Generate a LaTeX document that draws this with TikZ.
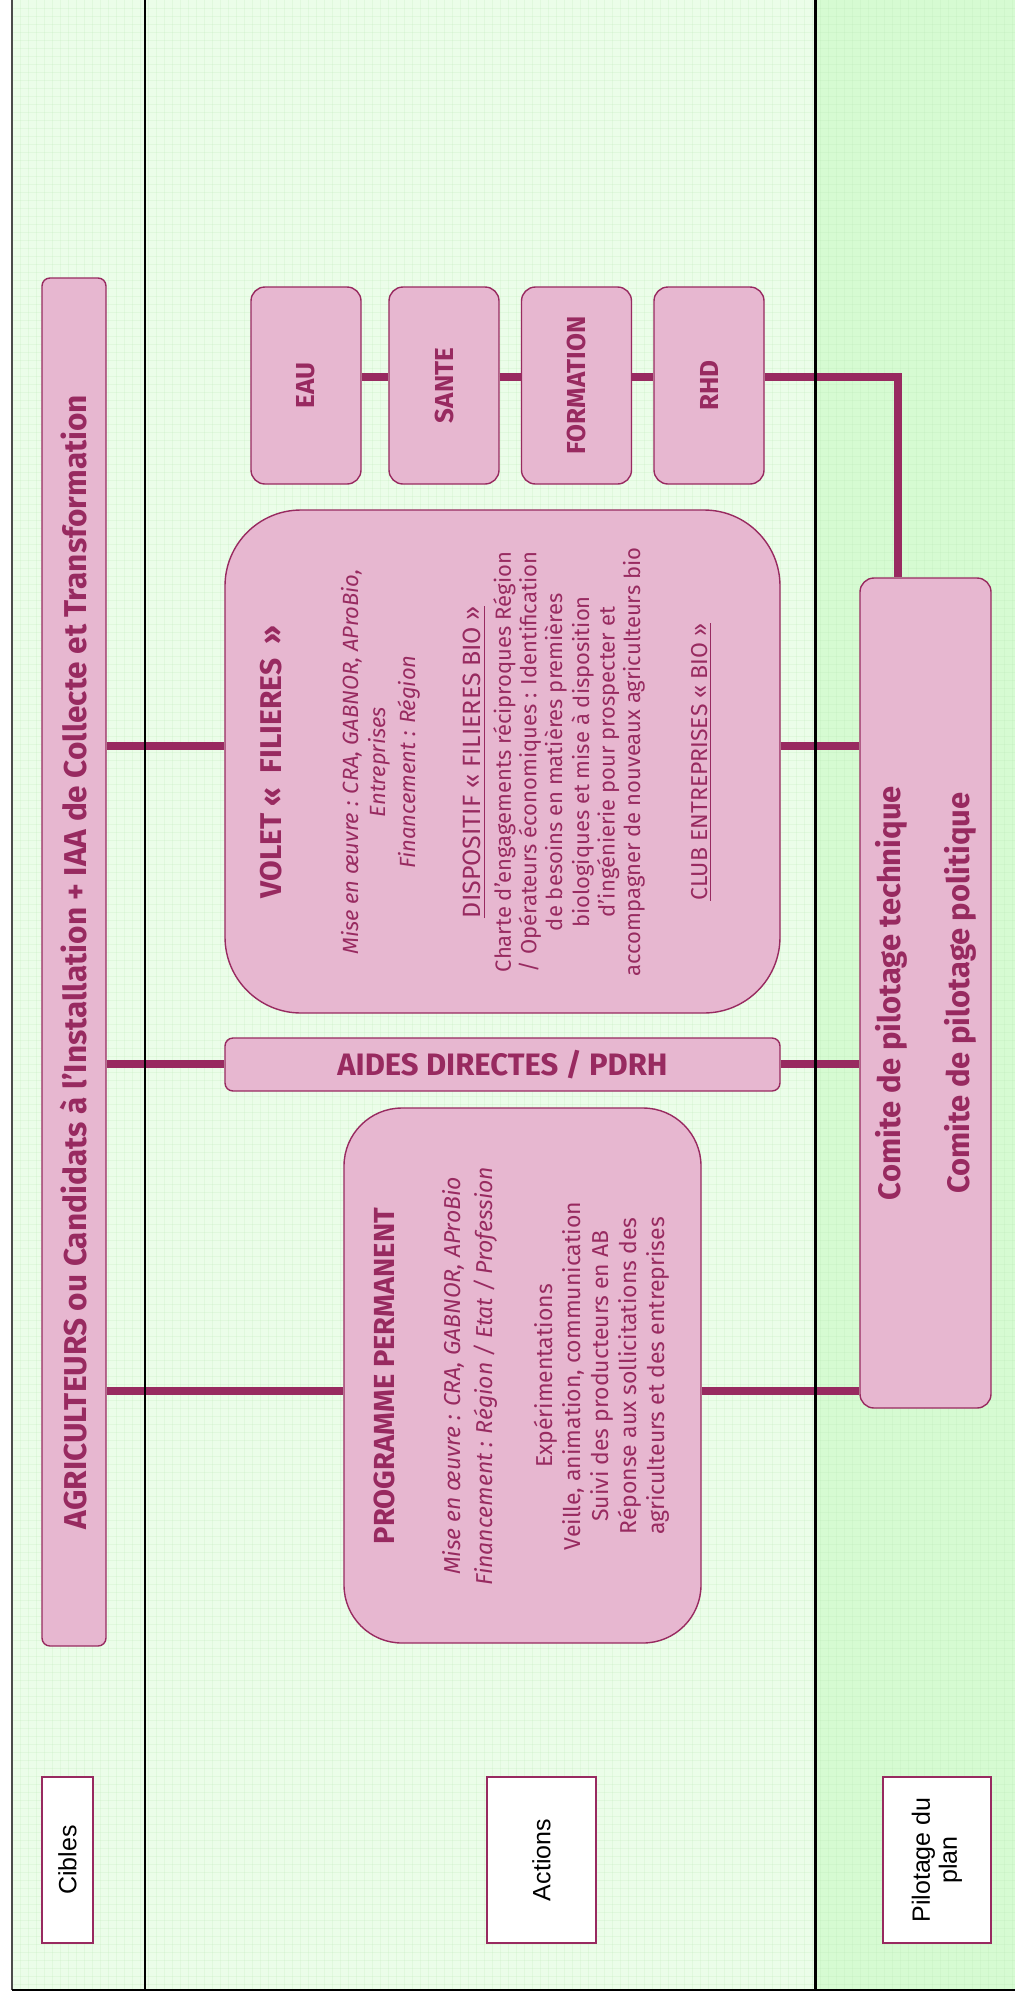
\documentclass[tikz,border=0pt]{standalone}
\usepackage{fontspec}
\setmainfont{Fira Sans}
\newfontfamily\labelfont{Liberation Sans}
\usetikzlibrary{positioning}

\definecolor{boxpink}{RGB}{231,183,208}
\definecolor{plum}{RGB}{152,42,96}
\definecolor{lanegreen}{RGB}{235,253,233}
\definecolor{pilotgreen}{RGB}{214,251,210}
\definecolor{gridgreen}{RGB}{180,230,176}

\tikzset{
  pinkbox/.style={draw=plum, fill=boxpink, line width=0.7pt, text=plum, inner sep=0pt, align=center},
  boxtext/.style={text=plum, inner sep=0pt, align=center},
  linkline/.style={draw=plum, line width=4pt},
  laneline/.style={draw=black, line width=1pt},
  lanelabel/.style={draw=plum, fill=white, line width=0.6pt, rotate=90, inner sep=0pt, align=center,
    font=\labelfont\fontsize{12.5}{13.5}\selectfont},
}

\begin{document}
\begin{tikzpicture}[x=0.5pt, y=-0.5pt]
    \useasboundingbox (0,0) rectangle (1015,1997);

    % Lanes
    \fill[lanegreen] (12,0) rectangle (815,1990);
    \fill[pilotgreen] (815,0) rectangle (1015,1990);
    \foreach \gx in {20,28,...,1012}
        \draw[gridgreen, line width=0.25pt, opacity=0.2] (\gx,0) -- (\gx,1990);
    \foreach \gy in {8,16,...,1984}
        \draw[gridgreen, line width=0.25pt, opacity=0.2] (12,\gy) -- (1015,\gy);

    % Cibles
    \node[pinkbox, rotate=90, rounded corners=4pt, minimum width=684pt, minimum height=32pt,
        font=\bfseries\fontsize{15.8}{17}\selectfont] (agri) at (74,962)
        {AGRICULTEURS ou Candidats à l’Installation + IAA de Collecte et Transformation};

    % Actions
    \node[pinkbox, rotate=90, rounded corners=7pt, minimum width=98.5pt, minimum height=55pt,
        font=\bfseries\fontsize{13}{14}\selectfont] (eau) at (306,385.5) {EAU};
    \node[pinkbox, rotate=90, rounded corners=7pt, minimum width=98.5pt, minimum height=55pt,
        font=\bfseries\fontsize{13}{14}\selectfont] (sante) at (444,385.5) {SANTE};
    \node[pinkbox, rotate=90, rounded corners=7pt, minimum width=98.5pt, minimum height=55pt,
        font=\bfseries\fontsize{13}{14}\selectfont] (formation) at (576.5,385.5) {FORMATION};
    \node[pinkbox, rotate=90, rounded corners=7pt, minimum width=98.5pt, minimum height=55pt,
        font=\bfseries\fontsize{13}{14}\selectfont] (rhd) at (709,385.5) {RHD};

    \node[pinkbox, rotate=90, rounded corners=38pt, minimum width=251.5pt, minimum height=277.5pt]
        (volet) at (502.5,761.5) {};
    \node[boxtext, rotate=90, font=\fontsize{11}{12.8}\selectfont] (volettext) at (486,762)
        {{\bfseries\fontsize{15}{15}\selectfont VOLET «\ \ FILIERES\ \ »}\\[25.7pt]
         {\itshape Mise en œuvre : CRA, GABNOR, AProBio,}\\[0.7pt]
         {\itshape Entreprises}\\[2.2pt]
         {\itshape Financement : Région}\\[19.7pt]
         {\fontsize{12.5}{12.8}\selectfont\underline{DISPOSITIF « FILIERES BIO »}}\\[2.2pt]
         Charte d’engagements réciproques Région\\
         / Opérateurs économiques : Identification\\
         de besoins en matières premières\\[0.7pt]
         biologiques et mise à disposition\\
         d’ingénierie pour prospecter et\\
         accompagner de nouveaux agriculteurs bio\\[20.7pt]
         {\fontsize{11.5}{12.8}\selectfont\underline{CLUB ENTREPRISES « BIO »}}};

    \node[pinkbox, rounded corners=4pt, minimum width=277.5pt, minimum height=26.5pt,
        font=\bfseries\fontsize{15.5}{16}\selectfont] (aides) at (502.5,1064.5) {AIDES DIRECTES / PDRH};

    \node[pinkbox, rotate=90, rounded corners=29pt, minimum width=267.5pt, minimum height=178.5pt]
        (programme) at (522.5,1375.5) {};
    \node[boxtext, rotate=90, font=\fontsize{11.5}{14}\selectfont] (progtext) at (522,1376)
        {{\bfseries\fontsize{14.5}{15}\selectfont PROGRAMME PERMANENT}\\[19pt]
         {\itshape Mise en œuvre : CRA, GABNOR, AProBio}\\[2pt]
         {\itshape Financement : Région / Etat / Profession}\\[16pt]
         Expérimentations\\
         Veille, animation, communication\\
         Suivi des producteurs en AB\\
         Réponse aux sollicitations des\\
         agriculteurs et des entreprises};

    % Pilotage
    \node[pinkbox, rotate=90, rounded corners=7pt, minimum width=415pt, minimum height=65.5pt,
        font=\bfseries\fontsize{15.5}{16}\selectfont] (comite) at (925.5,993)
        {Comite de pilotage technique\\[17.5pt] Comite de pilotage politique};

    % Lane labels
    \node[lanelabel, minimum width=83pt, minimum height=25.5pt] (labcibles) at (67.5,1860) {Cibles};
    \node[lanelabel, minimum width=83pt, minimum height=54.5pt] (labactions) at (541.5,1860) {Actions};
    \node[lanelabel, minimum width=83pt, minimum height=54pt] (labpilotage) at (937,1860) {Pilotage du\\plan};

    % Links
    \coordinate (rowvolet) at (0,746);
    \coordinate (rowaides) at (0,1064);
    \coordinate (rowprog) at (0,1391);
    \coordinate (rowtheme) at (0,377);
    \coordinate (bend) at (898,377);

    \draw[linkline] (agri.south |- rowvolet) -- (volet.north |- rowvolet);
    \draw[linkline] (agri.south |- rowaides) -- (aides.west |- rowaides);
    \draw[linkline] (agri.south |- rowprog) -- (programme.north |- rowprog);
    \draw[linkline] (volet.south |- rowvolet) -- (comite.north |- rowvolet);
    \draw[linkline] (aides.east |- rowaides) -- (comite.north |- rowaides);
    \draw[linkline] (programme.south |- rowprog) -- (comite.north |- rowprog);
    \draw[linkline] (eau.south |- rowtheme) -- (sante.north |- rowtheme);
    \draw[linkline] (sante.south |- rowtheme) -- (formation.north |- rowtheme);
    \draw[linkline] (formation.south |- rowtheme) -- (rhd.north |- rowtheme);
    \draw[linkline] (rhd.south |- rowtheme) -- (bend) -- (comite.east -| bend);

    % Lane borders
    \draw[laneline, draw=black!70] (12,0) -- (12,1990);
    \draw[laneline] (12,1990) -- (1015,1990);
    \draw[laneline] (145,0) -- (145,1990);
    \draw[laneline, line width=1.5pt] (815,0) -- (815,1990);
\end{tikzpicture}
\end{document}
